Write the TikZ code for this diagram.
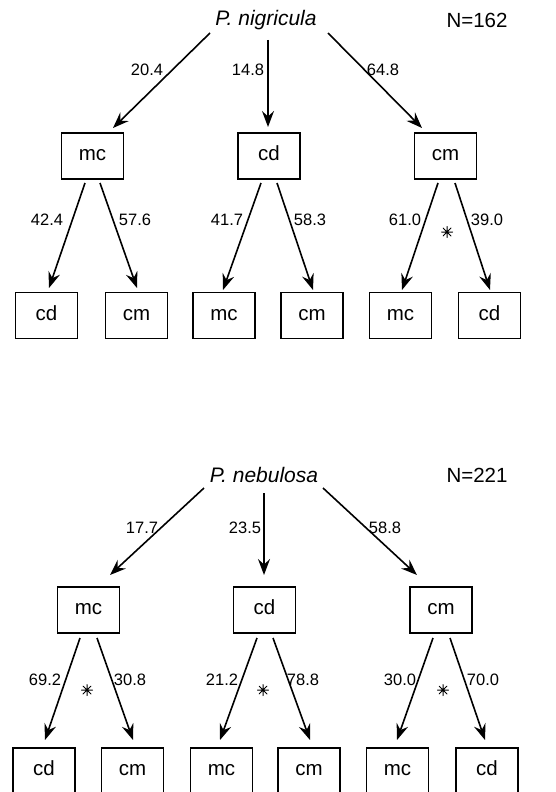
\documentclass[tikz,border=0pt]{standalone}
\usepackage{fontspec}
\setmainfont{Liberation Sans}
\usetikzlibrary{arrows.meta}
\begin{document}
\begin{tikzpicture}[x=1pt,y=-1pt,
  box/.style={draw,line width=1.1pt,minimum width=62pt,minimum height=46pt,inner sep=0pt,text height=9pt,text depth=0pt,font=\fontsize{20.5}{24}\selectfont},
  title/.style={inner sep=0pt,font=\fontsize{21}{25}\selectfont\itshape},
  count/.style={inner sep=0pt,font=\fontsize{20.5}{24}\selectfont},
  lab/.style={inner sep=0pt,font=\fontsize{16.5}{19}\selectfont},
  star/.style={circle,inner sep=0pt,minimum size=14pt,
    path picture={\draw[line width=1pt,line cap=round]
      ([shift={(-5.5pt,0pt)}]path picture bounding box.center) -- ([shift={(5.5pt,0pt)}]path picture bounding box.center)
      ([shift={(0pt,-5.5pt)}]path picture bounding box.center) -- ([shift={(0pt,5.5pt)}]path picture bounding box.center)
      ([shift={(-3.9pt,-3.9pt)}]path picture bounding box.center) -- ([shift={(3.9pt,3.9pt)}]path picture bounding box.center)
      ([shift={(-3.9pt,3.9pt)}]path picture bounding box.center) -- ([shift={(3.9pt,-3.9pt)}]path picture bounding box.center);}},
  arr/.style={line width=1.6pt,-{Stealth[length=16pt,width=12pt,inset=5.5pt]}}]
\useasboundingbox (0,0) rectangle (555,792);
\clip (0,0) rectangle (555,792);
\fill[white] (0,0) rectangle (555,792);

% ---------------- top tree ----------------
\node[title] (r1) at (266,20) {P. nigricula};
\node[count] (n1) at (477,20) {N=162};
\node[box] (a1) at (92.5,156) {mc};
\node[box] (b1) at (269,156) {cd};
\node[box] (c1) at (445.5,156) {cm};
\node[box] (l1) at (46.5,315.5) {cd};
\node[box] (l2) at (136.5,315.5) {cm};
\node[box] (l3) at (224,315.5) {mc};
\node[box] (l4) at (312,315.5) {cm};
\node[box] (l5) at (400.5,315.5) {mc};
\node[box] (l6) at (489.5,315.5) {cd};

\draw[arr] ([shift={(-56,13)}]r1.center) -- ([shift={(20.5,-28)}]a1.center);
\draw[arr] ([shift={(2,20)}]r1.center) -- ([shift={(-1,-29)}]b1.center);
\draw[arr] ([shift={(62,13)}]r1.center) -- ([shift={(-23.5,-28)}]c1.center);

\draw[arr] ([shift={(-7.5,27)}]a1.center) -- ([shift={(2.5,-27.5)}]l1.center);
\draw[arr] ([shift={(7.5,27)}]a1.center) -- ([shift={(0.5,-27.5)}]l2.center);
\draw[arr] ([shift={(-8,27)}]b1.center) -- ([shift={(-1,-25.5)}]l3.center);
\draw[arr] ([shift={(8,27)}]b1.center) -- ([shift={(1,-25.5)}]l4.center);
\draw[arr] ([shift={(-7.5,27)}]c1.center) -- ([shift={(1.5,-25.5)}]l5.center);
\draw[arr] ([shift={(9.5,27)}]c1.center) -- ([shift={(0.5,-25.5)}]l6.center);

\node[lab] (t1) at (147,70) {20.4};
\node[lab] (t2) at (248,70) {14.8};
\node[lab] (t3) at (383,70) {64.8};
\node[lab] (t4) at (47,220) {42.4};
\node[lab] (t5) at (135,220) {57.6};
\node[lab] (t6) at (227,220) {41.7};
\node[lab] (t7) at (310,220) {58.3};
\node[lab] (t8) at (405,220) {61.0};
\node[lab] (t9) at (487,220) {39.0};
\node[star] (s1) at (447,232) {};

% ---------------- bottom tree ----------------
\node[title] (r2) at (264,475) {P. nebulosa};
\node[count] (n2) at (477,475) {N=221};
\node[box] (a2) at (88.5,610) {mc};
\node[box] (b2) at (264.5,610) {cd};
\node[box] (c2) at (441,610) {cm};
\node[box] (m1) at (44,771) {cd};
\node[box] (m2) at (132.5,771) {cm};
\node[box] (m3) at (221.5,771) {mc};
\node[box] (m4) at (309,771) {cm};
\node[box] (m5) at (397.5,771) {mc};
\node[box] (m6) at (487,771) {cd};

\draw[arr] ([shift={(-60,13)}]r2.center) -- ([shift={(21.5,-35)}]a2.center);
\draw[arr] ([shift={(0,18)}]r2.center) -- ([shift={(-0.5,-35)}]b2.center);
\draw[arr] ([shift={(59,13)}]r2.center) -- ([shift={(-24,-35)}]c2.center);

\draw[arr] ([shift={(-8.5,28)}]a2.center) -- ([shift={(1,-31)}]m1.center);
\draw[arr] ([shift={(8.5,28)}]a2.center) -- ([shift={(0.5,-31)}]m2.center);
\draw[arr] ([shift={(-7.5,28)}]b2.center) -- ([shift={(-1.5,-31)}]m3.center);
\draw[arr] ([shift={(8.5,28)}]b2.center) -- ([shift={(1,-31)}]m4.center);
\draw[arr] ([shift={(-8,28)}]c2.center) -- ([shift={(-0.5,-31)}]m5.center);
\draw[arr] ([shift={(9,28)}]c2.center) -- ([shift={(-2,-31)}]m6.center);

\node[lab] (u1) at (142,528) {17.7};
\node[lab] (u2) at (245,528) {23.5};
\node[lab] (u3) at (385,528) {58.8};
\node[lab] (u4) at (45,680) {69.2};
\node[lab] (u5) at (130,680) {30.8};
\node[lab] (u6) at (222,680) {21.2};
\node[lab] (u7) at (303,680) {78.8};
\node[lab] (u8) at (400,680) {30.0};
\node[lab] (u9) at (483,680) {70.0};
\node[star] (s2) at (87,690) {};
\node[star] (s3) at (263,690) {};
\node[star] (s4) at (443,690) {};
\end{tikzpicture}
\end{document}
